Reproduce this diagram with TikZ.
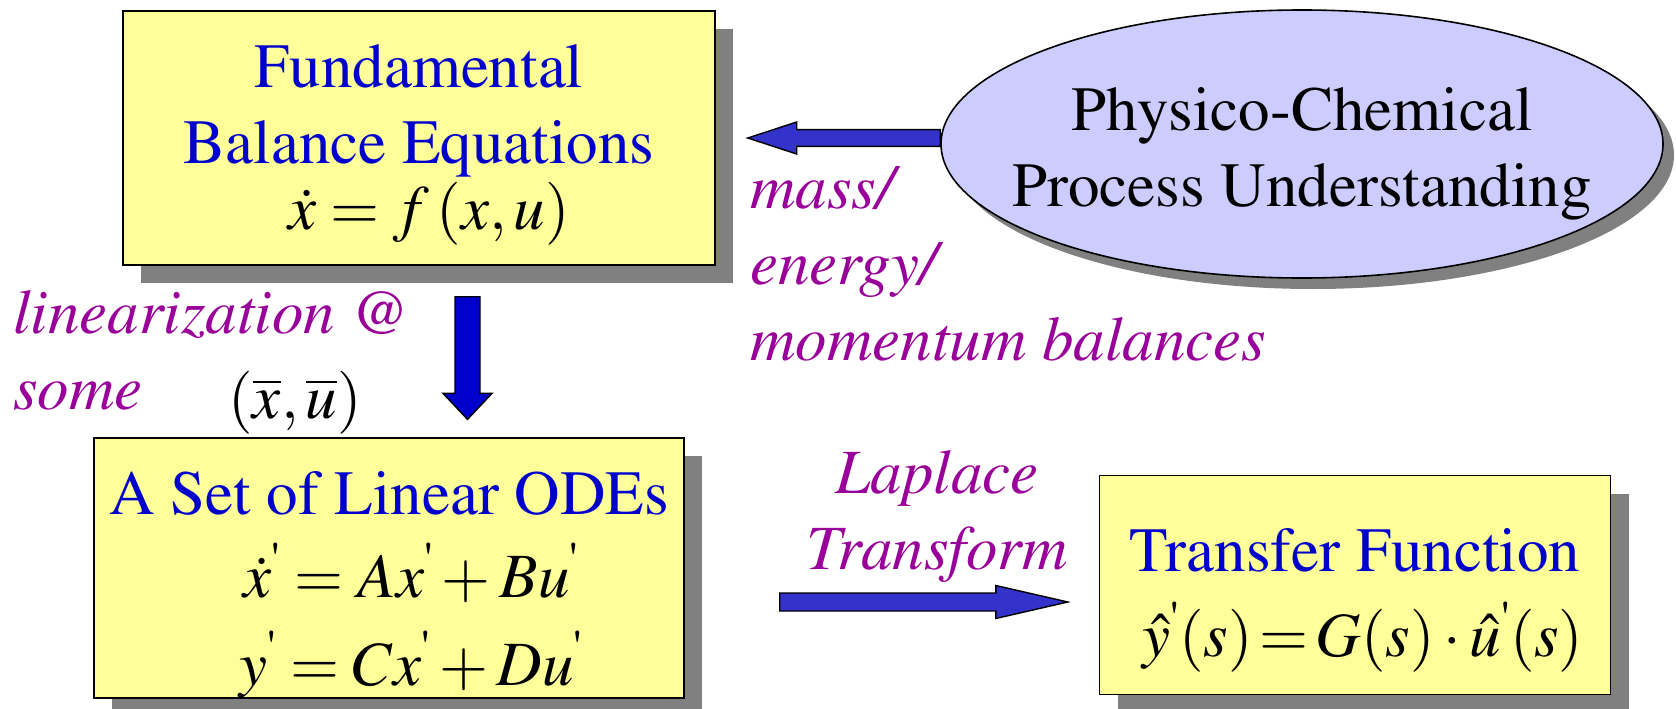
\documentclass[tikz,border=0pt]{standalone}
\usepackage[T1]{fontenc}
\usepackage{amsmath}
\usepackage{mathptmx}
\usetikzlibrary{calc,positioning,shapes.geometric,shadows}
\definecolor{boxfill}{HTML}{FFFF99}
\definecolor{ovalfill}{HTML}{CCCCFF}
\definecolor{titleblue}{HTML}{0000CC}
\definecolor{notepurple}{HTML}{990099}
\definecolor{arrowblue}{HTML}{3333CC}
\definecolor{downblue}{HTML}{0000CC}
\definecolor{shade}{HTML}{808080}
\newcommand{\pr}{^{\text{\textquotesingle}}}
\newcommand{\bigfont}{\fontsize{63}{76}\selectfont}
\tikzset{box/.style={draw=black,line width=1.4pt,fill=boxfill,text=titleblue,align=center,inner sep=0pt,
  drop shadow={shadow xshift=18pt,shadow yshift=-18pt,fill=shade,opacity=1}},
  oval/.style={ellipse,draw=black,line width=1.6pt,fill=ovalfill,inner sep=0pt,
  drop shadow={shadow xshift=11pt,shadow yshift=-11pt,fill=shade,opacity=1}},
  note/.style={text=notepurple,font=\bigfont\itshape,align=left,inner sep=0pt},
  barrow/.style={draw=black,line width=1.4pt,fill=arrowblue,line join=miter}}
% block arrow: [style] tail, tip, shaft half width, head half width, head length
\newcommand{\blockarrow}[6][]{%
\coordinate (bh) at ($(#3)!#6!(#2)$);
\draw[barrow,#1] ($(#2)!#4!90:(#3)$) -- ($(bh)!#4!90:(#3)$) -- ($(bh)!#5!90:(#3)$) -- (#3)
  -- ($(bh)!#5!-90:(#3)$) -- ($(bh)!#4!-90:(#3)$) -- ($(#2)!#4!-90:(#3)$) -- cycle;}
\begin{document}
\begin{tikzpicture}[x=1pt,y=-1pt,font=\bigfont]
\useasboundingbox (0,0) rectangle (1676,709);
% boxes
\node[box,minimum width=592pt,minimum height=254pt] (fbe) at (419,138)
  {\rule{0pt}{57pt}Fundamental\\Balance Equations\\[-10pt]\kern20pt{\color{black}$\dot{x}=f\,(x,u)$}};
\node[box,minimum width=590pt,minimum height=254pt] (lin) at (389,568)
  {\rule{0pt}{76pt}A Set of Linear ODEs\\[7pt]
   \kern44pt{\color{black}$\dot{x}\pr = Ax\pr + Bu\pr$}\\[12pt]
   \kern44pt{\color{black}$y\pr = Cx\pr + Du\pr$}};
\node[box,minimum width=511pt,minimum height=219pt] (tf) at (1355,585)
  {\rule{0pt}{74pt}Transfer Function\\[9pt]
   \kern16pt{\color{black}$\hat{y}\pr(s)\,{=}\,G(s)\cdot\hat{u}\pr(s)$}};
\node[oval,minimum width=722pt,minimum height=268pt] (pcu) at (1302,144) {};
\node[align=center,inner sep=0pt] (pcutext) at ($(pcu.center)+(0,10)$) {Physico-Chemical\\Process Understanding};
% labels
\node[note,anchor=west] (lintxt) at (13,351) {linearization @\\some};
\node[inner sep=0pt,anchor=base] (eqpt) at (295,418) {$(\overline{x},\overline{u})$};
\node[note,anchor=west] (balances) at (750,264) {mass/\\energy/\\momentum balances};
\node[note,align=center] (laplace) at (937,517) {Laplace\\Transform};
% arrows
\coordinate (ltip) at ($(fbe.east)+(32,0)$);
\coordinate (ltail) at (pcu.west |- ltip);
\blockarrow{ltail}{ltip}{8.4pt}{16pt}{49pt}
\coordinate (dtail) at ($(fbe.south)+(48.5,31)$);
\coordinate (dtip) at ($(lin.north)+(78.5,-18)$);
\blockarrow[fill=downblue]{dtail}{dtip}{12.5pt}{24.5pt}{26pt}
\coordinate (rtail) at ($(lin.east)+(95,34)$);
\coordinate (rtip) at ($(rtail -| tf.west)+(-31,0)$);
\blockarrow{rtail}{rtip}{9pt}{16.5pt}{72pt}
\end{tikzpicture}
\end{document}
